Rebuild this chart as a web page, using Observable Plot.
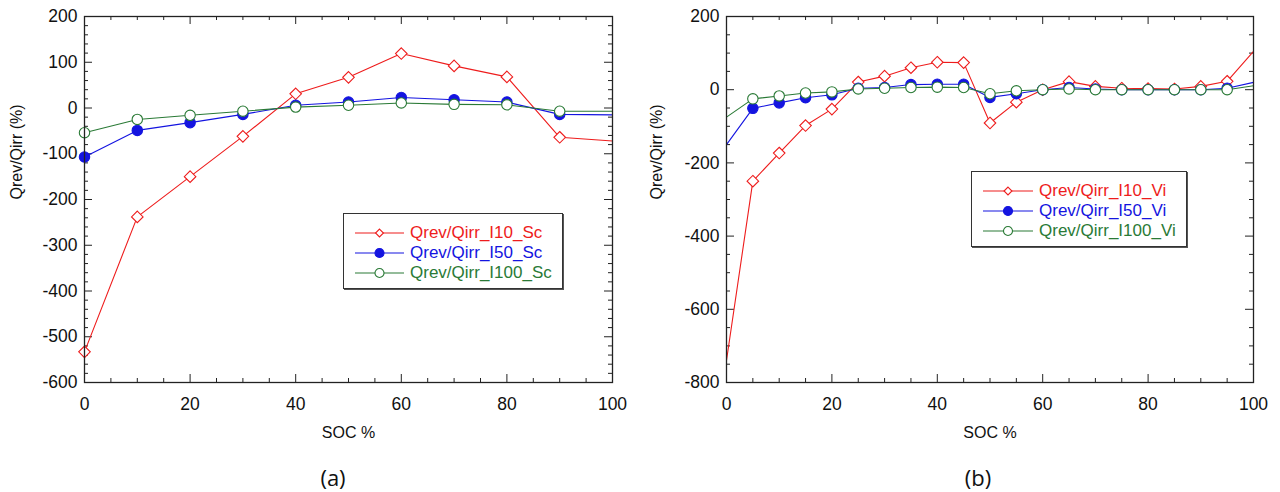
<!DOCTYPE html>
<html>
<head>
<meta charset="utf-8">
<script src="https://cdn.jsdelivr.net/npm/d3@7"></script>
<script src="https://cdn.jsdelivr.net/npm/@observablehq/plot@0.6"></script>
<style>
  html, body { margin: 0; padding: 0; background: #fff; }
  #root { position: relative; width: 1280px; height: 492px; overflow: hidden; font-family: "Liberation Sans", Arial, sans-serif; }
  .panel { position: absolute; top: 0; }
  .legend { position: absolute; background: #fff; border: 1.3px solid #333; box-shadow: 1px 1px 0 #555; box-sizing: border-box; }
  .legend .row { position: absolute; left: 0; height: 20px; display: flex; align-items: center; white-space: nowrap; font-size: 17px; }
  .legend svg { display: block; }
  .caption { position: absolute; top: 464px; height: 27px; line-height: 27px; font-family: "Open Sans", "Noto Sans", sans-serif; font-size: 22px; color: #111; transform: translateX(-50%); }
</style>
</head>
<body>
<div id="root"></div>
<script>
// SOC sampling points (%)
const socSc = [0, 10, 20, 30, 40, 50, 60, 70, 80, 90, 100];
const socVi = [0, 5, 10, 15, 20, 25, 30, 35, 40, 45, 50, 55, 60, 65, 70, 75, 80, 85, 90, 95, 100];

// Qrev/Qirr (%) — Sc series
const qI10Sc  = [-533, -238, -150, -62, 31, 67, 119, 92, 68, -64, -72];
const qI50Sc  = [-107, -49, -32, -14, 6, 13, 23, 18, 13, -14, -15];
const qI100Sc = [-54, -25, -16, -7, 2, 6, 11, 8, 7, -7, -7];

// Qrev/Qirr (%) — Vi series
const qI10Vi  = [-740, -250, -173, -98, -53, 21, 37, 60, 75, 74, -91, -34, 0, 22, 9, 4, 3, 2, 9, 23, 105];
const qI50Vi  = [-150, -51, -36, -22, -14, 4, 6, 14, 15, 15, -21, -11, 0, 6, 2, 0, 0, 0, 0, 4, 20];
const qI100Vi = [-75, -25, -17, -9, -6, 2, 4, 6, 7, 6, -11, -3, 0, 2, 0, 0, 0, 0, 0, 0, 11];

// Axis tick values
const xTicks = [0, 20, 40, 60, 80, 100];
const yTicksSc = [200, 100, 0, -100, -200, -300, -400, -500, -600];
const yTicksVi = [200, 0, -200, -400, -600, -800];

// Series names
const namesSc = ["Qrev/Qirr_I10_Sc", "Qrev/Qirr_I50_Sc", "Qrev/Qirr_I100_Sc"];
const namesVi = ["Qrev/Qirr_I10_Vi", "Qrev/Qirr_I50_Vi", "Qrev/Qirr_I100_Vi"];

const RED = "#ee1c1c", BLUE = "#1414e0", GREEN = "#2a7a36";
const styles = [
  {color: RED,   symbol: "diamond2", fill: "#fff", r: 5.2},
  {color: BLUE,  symbol: "circle",   fill: BLUE,   r: 5.2},
  {color: GREEN, symbol: "circle",   fill: "#fff", r: 5.2}
];

const rows = (soc, vals) => soc.map((s, i) => ({soc: s, value: vals[i]}));

function panel({soc, series, yDomain, yTicks, yMinorStep, marginLeft, marginRight, markerFilter}) {
  const W = 640, H = 430, mT = 16, mB = 48;
  const innerW = W - marginLeft - marginRight, innerH = H - mT - mB;
  const majorLen = 8, minorLen = 4;
  const xMinor = d3.range(0, 101, 5).filter(v => !xTicks.includes(v));
  const yMinor = d3.range(yDomain[0], yDomain[1] + 1, yMinorStep).filter(v => !yTicks.includes(v));
  const tickStyle = {stroke: "#222", strokeWidth: 1};
  const marks = [
    // inward ticks on all four sides
    Plot.ruleX(xTicks, {...tickStyle, insetTop: innerH - majorLen}),
    Plot.ruleX(xTicks, {...tickStyle, insetBottom: innerH - majorLen}),
    Plot.ruleX(xMinor, {...tickStyle, insetTop: innerH - minorLen}),
    Plot.ruleX(xMinor, {...tickStyle, insetBottom: innerH - minorLen}),
    Plot.ruleY(yTicks, {...tickStyle, insetRight: innerW - majorLen}),
    Plot.ruleY(yTicks, {...tickStyle, insetLeft: innerW - majorLen}),
    Plot.ruleY(yMinor, {...tickStyle, insetRight: innerW - minorLen}),
    Plot.ruleY(yMinor, {...tickStyle, insetLeft: innerW - minorLen}),
    Plot.axisX(xTicks, {tickSize: 0, tickPadding: 15, fontSize: 17.5, label: null, tickFormat: d => String(d)}),
    Plot.axisY(yTicks, {tickSize: 0, tickPadding: 7, fontSize: 17.5, label: null, tickFormat: d => String(d)}),
    Plot.text(["SOC %"], {frameAnchor: "bottom", dy: 55, fontSize: 16, fill: "#111"}),
    Plot.text(["Qrev/Qirr (%)"], {frameAnchor: "left", dx: -(marginLeft - 16), rotate: -90, fontSize: 16, fill: "#111"})
  ];
  series.forEach((vals, i) => {
    const st = styles[i];
    const data = rows(soc, vals);
    marks.push(Plot.line(data, {x: "soc", y: "value", stroke: st.color, strokeWidth: 1.1}));
    marks.push(Plot.dot(data.filter(markerFilter), {x: "soc", y: "value", symbol: st.symbol, r: st.r, stroke: st.color, strokeWidth: 1.1, fill: st.fill}));
  });
  marks.push(Plot.frame({stroke: "#222", strokeWidth: 1.3}));
  return Plot.plot({
    width: W, height: H,
    marginLeft, marginRight, marginTop: mT, marginBottom: mB,
    style: {fontFamily: "'Liberation Sans', Arial, sans-serif", fontSize: "17px", color: "#111", background: "transparent", overflow: "visible"},
    x: {domain: [0, 100]},
    y: {domain: yDomain},
    marks
  });
}

function legend(names, box) {
  const el = document.createElement("div");
  el.className = "legend";
  Object.assign(el.style, {left: box.left + "px", top: box.top + "px", width: box.width + "px", height: box.height + "px"});
  names.forEach((name, i) => {
    const st = styles[i];
    const row = document.createElement("div");
    row.className = "row";
    row.style.top = (box.rowTop + i * box.rowGap - 10) + "px";
    row.style.left = box.padLeft + "px";
    const sw = box.swatch;
    const sym = d3.symbol(st.symbol === "diamond2" ? d3.symbolDiamond2 : d3.symbolCircle, st.symbol === "diamond2" ? 40 : 64)();
    row.innerHTML =
      `<svg width="${sw}" height="20"><line x1="0" x2="${sw}" y1="10" y2="10" stroke="${st.color}" stroke-width="1.1"/>` +
      `<path d="${sym}" transform="translate(${sw / 2},10)" fill="${st.fill}" stroke="${st.color}" stroke-width="1.1"/></svg>` +
      `<span style="color:${st.color};margin-left:6px">${name}</span>`;
    el.appendChild(row);
  });
  return el;
}

const root = document.getElementById("root");

const left = panel({
  soc: socSc, series: [qI10Sc, qI50Sc, qI100Sc],
  yDomain: [-600, 200], yTicks: yTicksSc, yMinorStep: 20,
  marginLeft: 84, marginRight: 28,
  markerFilter: d => d.soc < 100
});
left.classList.add("panel");
left.style.left = "0px";
root.appendChild(left);

const right = panel({
  soc: socVi, series: [qI10Vi, qI50Vi, qI100Vi],
  yDomain: [-800, 200], yTicks: yTicksVi, yMinorStep: 50,
  marginLeft: 86, marginRight: 27,
  markerFilter: d => d.soc > 0 && d.soc < 100
});
right.classList.add("panel");
right.style.left = "640px";
root.appendChild(right);

root.appendChild(legend(namesSc, {left: 343, top: 213, width: 220, height: 76, rowTop: 19, rowGap: 20, padLeft: 11, swatch: 49}));
root.appendChild(legend(namesVi, {left: 971, top: 171, width: 216, height: 76, rowTop: 19, rowGap: 20, padLeft: 11, swatch: 50}));

for (const [txt, cx] of [["(a)", 333], ["(b)", 978]]) {
  const c = document.createElement("div");
  c.className = "caption";
  c.textContent = txt;
  c.style.left = cx + "px";
  root.appendChild(c);
}
</script>
</body>
</html>
